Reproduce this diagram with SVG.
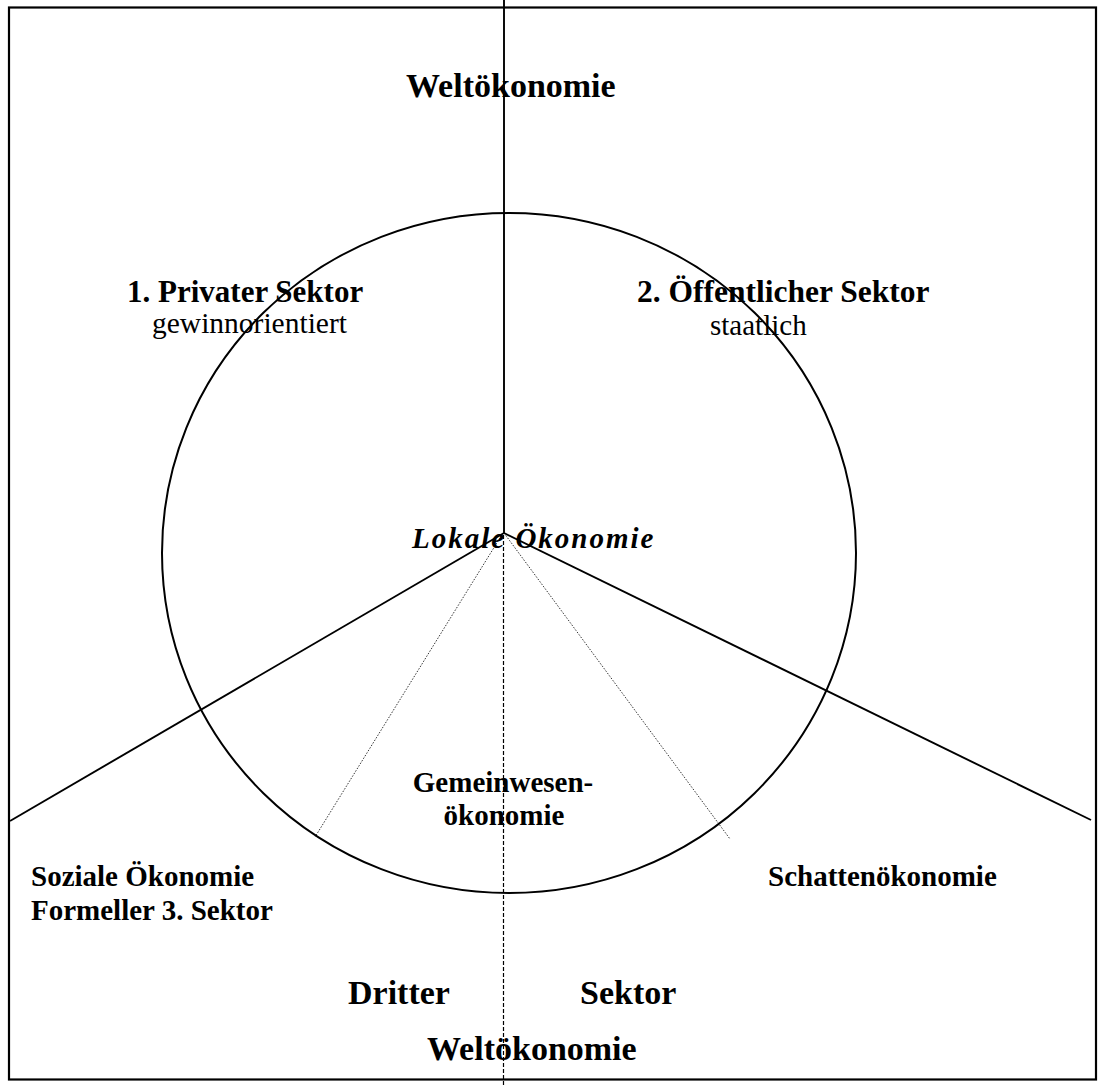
<svg xmlns="http://www.w3.org/2000/svg" width="1099" height="1086" viewBox="0 0 1099 1086">
<style>
text{font-family:"Liberation Serif","Times New Roman",serif;fill:#000}
.b{font-weight:bold}
.solid{stroke:#000;fill:none;stroke-width:1.9}
.dot{stroke:#000;fill:none;stroke-width:0.8;stroke-dasharray:1.5 1.5}
.dash{stroke:#000;fill:none;stroke-width:1.2;stroke-dasharray:4 2}
</style>
<rect x="0" y="0" width="1099" height="1086" fill="#fff"/>
<rect id="frame" x="9" y="7.5" width="1087" height="1072" fill="none" stroke="#000" stroke-width="2.2"/>
<g id="circle"><ellipse cx="509" cy="553" rx="347" ry="340" fill="none" stroke="#000" stroke-width="2"/></g>
<g id="connectors">
<line class="solid" x1="504" y1="0" x2="504" y2="533"/>
<line class="solid" x1="504" y1="533" x2="10" y2="821"/>
<line class="solid" x1="504" y1="533" x2="1091" y2="820"/>
<line class="dot" x1="503" y1="533" x2="315" y2="837"/>
<line class="dot" x1="504" y1="533" x2="730" y2="839"/>
<line class="dash" x1="503.5" y1="535" x2="503.5" y2="1086"/>
</g>
<g id="welt-top"><text class="b" x="406" y="97" font-size="34">Weltökonomie</text></g>
<g id="privat"><text class="b" x="127" y="302" font-size="31">1. Privater Sektor</text><text x="152" y="333" font-size="29.5">gewinnorientiert</text></g>
<g id="oeffentlich"><text class="b" x="637" y="302" font-size="31.5">2. Öffentlicher Sektor</text><text x="710" y="335" font-size="29">staatlich</text></g>
<g id="lokal"><text class="b" x="412" y="548" font-size="29" font-style="italic" letter-spacing="2">Lokale Ökonomie</text></g>
<g id="gemeinwesen"><text class="b" x="503" y="792" font-size="29" text-anchor="middle">Gemeinwesen-</text><text class="b" x="504" y="825" font-size="29" text-anchor="middle">ökonomie</text></g>
<g id="sozial"><text class="b" x="31" y="886" font-size="29">Soziale Ökonomie</text><text class="b" x="31" y="920" font-size="29">Formeller 3. Sektor</text></g>
<g id="schatten"><text class="b" x="768" y="886" font-size="29">Schattenökonomie</text></g>
<g id="dritter"><text class="b" x="348" y="1004" font-size="34">Dritter</text><text class="b" x="580" y="1004" font-size="34">Sektor</text></g>
<g id="welt-bottom"><text class="b" x="427" y="1060" font-size="34">Weltökonomie</text></g>
</svg>
